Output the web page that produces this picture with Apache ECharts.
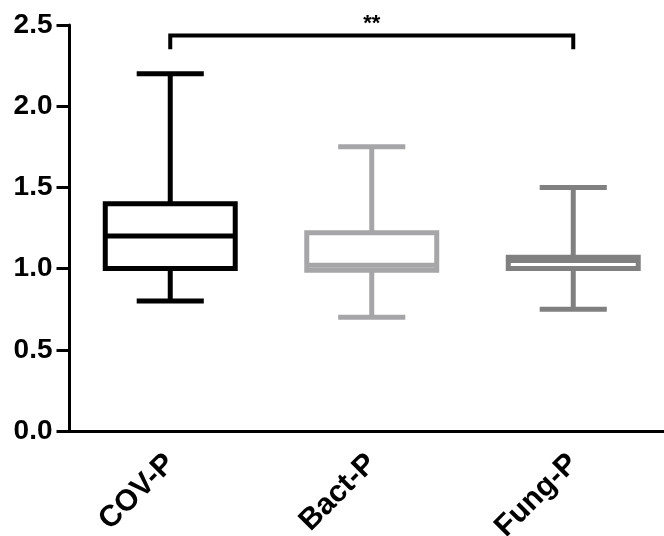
<!DOCTYPE html>
<html><head><meta charset="utf-8">
<script src="https://cdn.jsdelivr.net/npm/echarts@6/dist/echarts.min.js"></script>
<style>html,body{margin:0;padding:0;background:#fff}#c{width:664px;height:536px}</style>
</head><body><div id="c"></div>
<script>
// Data
var categories = ['COV-P', 'Bact-P', 'Fung-P'];
// [min, Q1, median, Q3, max]
var covP  = [0.80, 1.00, 1.20, 1.40, 2.20];
var bactP = [0.70, 0.99, 1.02, 1.22, 1.75];
var fungP = [0.75, 1.00, 1.05, 1.07, 1.50];
var boxColors = ['#000000', '#a6a6a8', '#808080'];
var yTicks = [0, 0.5, 1.0, 1.5, 2.0, 2.5];
// significance bracket: [from category, to category, bar level, leg end level, label]
var bracketFrom = 0, bracketTo = 2, bracketLevel = 2.435, bracketLeg = 2.35, bracketLabel = '**';

var boxData = [covP, bactP, fungP].map(function (d, i) { return [i].concat(d); });

var chart = echarts.init(document.getElementById('c'), null, {renderer: 'canvas'});

function renderBox(params, api) {
  var i = api.value(0);
  var c = api.coord([i, api.value(3)]);
  var band = api.size([1, 0])[0];
  var boxW = band * 0.645, capW = band * 0.333;
  var pMin = api.coord([i, api.value(1)]);
  var pQ1 = api.coord([i, api.value(2)]);
  var pMed = api.coord([i, api.value(3)]);
  var pQ3 = api.coord([i, api.value(4)]);
  var pMax = api.coord([i, api.value(5)]);
  var x = c[0];
  var col = boxColors[i];
  var st = {stroke: col, lineWidth: 5, fill: null};
  return {
    type: 'group',
    children: [
      {type: 'line', shape: {x1: x, y1: pMax[1], x2: x, y2: pQ3[1]}, style: st},
      {type: 'line', shape: {x1: x, y1: pQ1[1], x2: x, y2: pMin[1]}, style: st},
      {type: 'line', shape: {x1: x - capW / 2, y1: pMax[1], x2: x + capW / 2, y2: pMax[1]}, style: st},
      {type: 'line', shape: {x1: x - capW / 2, y1: pMin[1], x2: x + capW / 2, y2: pMin[1]}, style: st},
      {type: 'rect', shape: {x: x - boxW / 2, y: pQ3[1], width: boxW, height: pQ1[1] - pQ3[1]}, style: {stroke: col, lineWidth: 5, fill: '#fff'}},
      {type: 'line', shape: {x1: x - boxW / 2, y1: pMed[1], x2: x + boxW / 2, y2: pMed[1]}, style: st}
    ]
  };
}

function renderBracket(params, api) {
  var a = api.coord([bracketFrom, bracketLevel]);
  var b = api.coord([bracketTo, bracketLevel]);
  var aLeg = api.coord([bracketFrom, bracketLeg]);
  var bLeg = api.coord([bracketTo, bracketLeg]);
  return {
    type: 'group',
    children: [
      {type: 'polyline', shape: {points: [[aLeg[0], aLeg[1]], [a[0], a[1]], [b[0], b[1]], [bLeg[0], bLeg[1]]]},
       style: {stroke: '#000', lineWidth: 4, fill: null, lineJoin: 'miter'}},
      {type: 'text', x: (a[0] + b[0]) / 2, y: a[1] - 23,
       style: {text: bracketLabel, fill: '#000', font: 'bold 22px "Liberation Sans", Arial', textAlign: 'center', textVerticalAlign: 'top'}}
    ]
  };
}

var option = {
  animation: false,
  backgroundColor: '#fff',
  grid: {left: 69.5, width: 604.5, top: 25, height: 406, containLabel: false, outerBoundsMode: 'none'},
  xAxis: {
    type: 'category', data: categories, boundaryGap: true,
    axisLine: {lineStyle: {color: '#000', width: 3}},
    axisTick: {alignWithLabel: true, length: 11, lineStyle: {color: '#000', width: 3}},
    axisLabel: {rotate: 45, margin: 28, color: '#000', fontWeight: 'bold', fontSize: 30, fontFamily: '"Liberation Sans", Arial'}
  },
  yAxis: {
    type: 'value', min: 0, max: 2.5, interval: 0.5,
    axisLine: {show: true, lineStyle: {color: '#000', width: 3}},
    axisTick: {show: true, length: 13, lineStyle: {color: '#000', width: 3}},
    splitLine: {show: false},
    axisLabel: {margin: 17, color: '#000', fontWeight: 'bold', fontSize: 28, fontFamily: '"Liberation Sans", Arial',
      formatter: function (v) { return v.toFixed(1); }}
  },
  series: [
    {type: 'custom', renderItem: renderBox, data: boxData, encode: {x: 0, y: [1, 2, 3, 4, 5]}, clip: false},
    {type: 'custom', renderItem: renderBracket, data: [[0, bracketLevel]], clip: false, silent: true}
  ]
};
chart.setOption(option);
</script></body></html>
